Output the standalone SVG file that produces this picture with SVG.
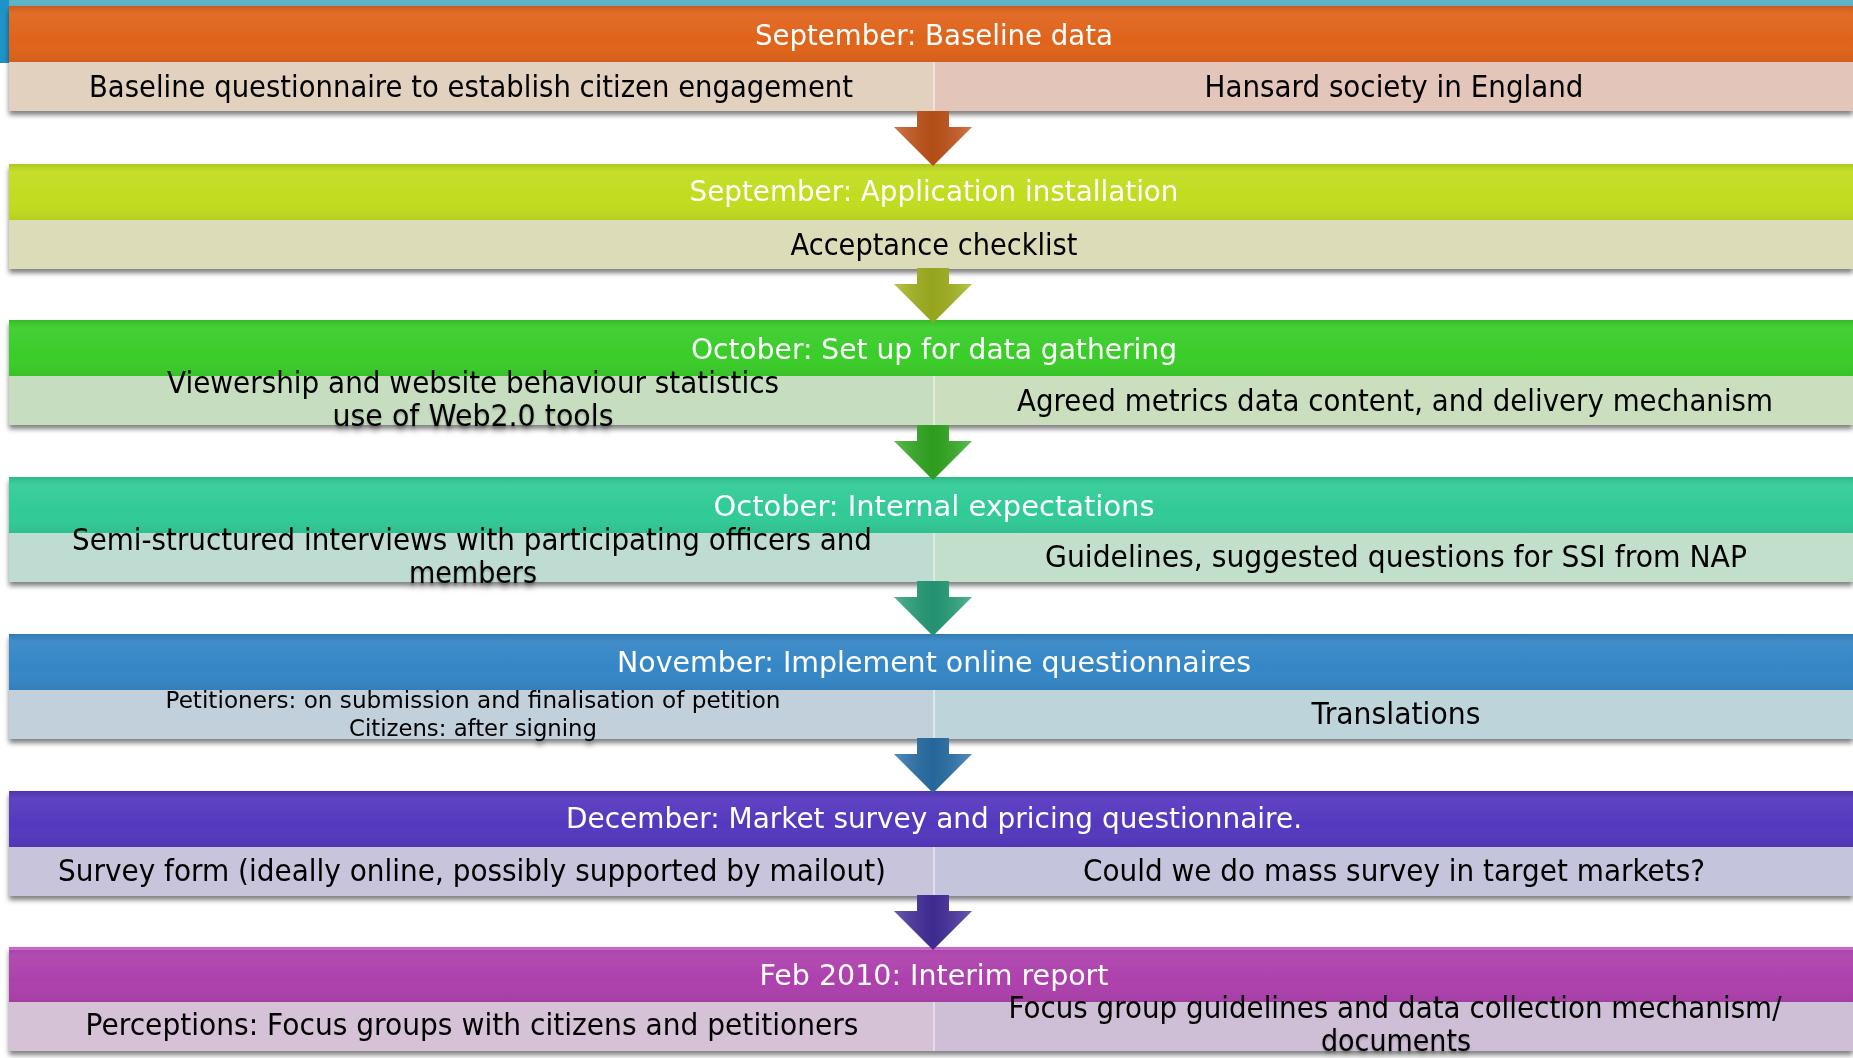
<svg xmlns="http://www.w3.org/2000/svg" width="1853" height="1058" viewBox="0 0 1853 1058">
  <style>
    .title { font-family: "DejaVu Sans", "Liberation Sans", sans-serif; font-size: 29px; fill: #ffffff; text-anchor: middle; }
    .body { font-family: "DejaVu Sans", "Liberation Sans", sans-serif; font-size: 30px; fill: #000000; text-anchor: middle; }
    .small { font-family: "DejaVu Sans", "Liberation Sans", sans-serif; font-size: 23px; fill: #000000; text-anchor: middle; }
    .divider { stroke: #ffffff; stroke-opacity: 0.45; stroke-width: 2; }
    .sheen { fill: url(#sheen); }
    .bevel { fill: url(#arrowShade); }
  </style>
  <defs>
    <filter id="shadow" x="-2%" y="-20%" width="104%" height="150%">
      <feDropShadow dx="0" dy="4" stdDeviation="2.5" flood-color="#000000" flood-opacity="0.5"/>
    </filter>
    <filter id="txtshadow" x="-5%" y="-30%" width="110%" height="170%">
      <feDropShadow dx="0" dy="2" stdDeviation="1.2" flood-color="#000000" flood-opacity="0.25"/>
    </filter>
    <linearGradient id="sheen" x1="0" y1="0" x2="0" y2="1">
      <stop offset="0" stop-color="#000000" stop-opacity="0.10"/>
      <stop offset="0.15" stop-color="#ffffff" stop-opacity="0.06"/>
      <stop offset="0.6" stop-color="#ffffff" stop-opacity="0"/>
      <stop offset="1" stop-color="#000000" stop-opacity="0.06"/>
    </linearGradient>
    <linearGradient id="arrowShade" x1="0" y1="0" x2="1" y2="0">
      <stop offset="0" stop-color="#ffffff" stop-opacity="0.2"/>
      <stop offset="0.5" stop-color="#000000" stop-opacity="0.1"/>
      <stop offset="1" stop-color="#ffffff" stop-opacity="0.2"/>
    </linearGradient>
    <!-- one down arrow, placed between each pair of stages -->
    <path id="arrow" d="M-16,0 L16,0 L16,16 L39,16 L0,55 L-39,16 L-16,16 Z"/>
  </defs>

  <rect width="1853" height="1058" fill="#ffffff"/>

  <!-- slide accents in the top-left corner -->
  <rect x="0" y="0" width="1853" height="6" fill="#5fb3c6"/>
  <rect x="0" y="0" width="9" height="63" fill="#1f93c6"/>

  <!-- stage 1 -->
  <g id="stage-baseline" filter="url(#shadow)">
    <rect x="9" y="6" width="1844" height="56" fill="#e0641c"/>
    <rect x="9" y="6" width="1844" height="56" class="sheen"/>
    <rect x="9" y="62" width="925" height="49" fill="#e3d1bf"/>
    <rect x="934" y="62" width="919" height="49" fill="#e3c5b9"/>
    <line x1="934" y1="62" x2="934" y2="111" class="divider"/>
    <text class="title" x="934" y="45" textLength="358" lengthAdjust="spacingAndGlyphs">September: Baseline data</text>
    <text class="body" x="471" y="97" textLength="764" lengthAdjust="spacingAndGlyphs">Baseline questionnaire to establish citizen engagement</text>
    <text class="body" x="1394" y="97" textLength="379" lengthAdjust="spacingAndGlyphs">Hansard society in England</text>
  </g>

  <!-- stage 2 -->
  <g id="stage-installation" filter="url(#shadow)">
    <rect x="9" y="164" width="1844" height="56" fill="#c2dc20"/>
    <rect x="9" y="164" width="1844" height="56" class="sheen"/>
    <rect x="9" y="220" width="1844" height="49" fill="#dcdcb9"/>
    <text class="title" x="934" y="201" textLength="489" lengthAdjust="spacingAndGlyphs">September: Application installation</text>
    <text class="body" x="934" y="255" textLength="287" lengthAdjust="spacingAndGlyphs">Acceptance checklist</text>
  </g>

  <!-- stage 3 -->
  <g id="stage-setup" filter="url(#shadow)">
    <rect x="9" y="320" width="1844" height="56" fill="#3acd2a"/>
    <rect x="9" y="320" width="1844" height="56" class="sheen"/>
    <rect x="9" y="376" width="925" height="49" fill="#c7ddc0"/>
    <rect x="934" y="376" width="919" height="49" fill="#cbdebd"/>
    <line x1="934" y1="376" x2="934" y2="425" class="divider"/>
    <text class="title" x="934" y="359" textLength="486" lengthAdjust="spacingAndGlyphs">October: Set up for data gathering</text>
    <text class="body" x="473" y="393" textLength="612" lengthAdjust="spacingAndGlyphs">Viewership and website behaviour statistics</text>
    <text class="body" x="473" y="426" textLength="281" lengthAdjust="spacingAndGlyphs" filter="url(#txtshadow)">use of Web2.0 tools</text>
    <text class="body" x="1395" y="411" textLength="756" lengthAdjust="spacingAndGlyphs">Agreed metrics data content, and delivery mechanism</text>
  </g>

  <!-- stage 4 -->
  <g id="stage-expectations" filter="url(#shadow)">
    <rect x="9" y="477" width="1844" height="56" fill="#31cb97"/>
    <rect x="9" y="477" width="1844" height="56" class="sheen"/>
    <rect x="9" y="533" width="925" height="49" fill="#bedcd1"/>
    <rect x="934" y="533" width="919" height="49" fill="#c2dfcb"/>
    <line x1="934" y1="533" x2="934" y2="582" class="divider"/>
    <text class="title" x="934" y="516" textLength="441" lengthAdjust="spacingAndGlyphs">October:  Internal expectations</text>
    <text class="body" x="472" y="550" textLength="800" lengthAdjust="spacingAndGlyphs">Semi-structured interviews with participating officers and</text>
    <text class="body" x="473" y="583" textLength="128" lengthAdjust="spacingAndGlyphs" filter="url(#txtshadow)">members</text>
    <text class="body" x="1396" y="567" textLength="702" lengthAdjust="spacingAndGlyphs">Guidelines, suggested questions for SSI from NAP</text>
  </g>

  <!-- stage 5 -->
  <g id="stage-questionnaires" filter="url(#shadow)">
    <rect x="9" y="634" width="1844" height="56" fill="#3586c6"/>
    <rect x="9" y="634" width="1844" height="56" class="sheen"/>
    <rect x="9" y="690" width="925" height="49" fill="#c2d0dc"/>
    <rect x="934" y="690" width="919" height="49" fill="#bdd5da"/>
    <line x1="934" y1="690" x2="934" y2="739" class="divider"/>
    <text class="title" x="934" y="672" textLength="634" lengthAdjust="spacingAndGlyphs">November:  Implement online questionnaires</text>
    <text class="small" x="473" y="708" textLength="615" lengthAdjust="spacingAndGlyphs">Petitioners: on submission and finalisation of petition</text>
    <text class="small" x="473" y="736" textLength="248" lengthAdjust="spacingAndGlyphs">Citizens: after signing</text>
    <text class="body" x="1396" y="724" textLength="169" lengthAdjust="spacingAndGlyphs">Translations</text>
  </g>

  <!-- stage 6 -->
  <g id="stage-market-survey" filter="url(#shadow)">
    <rect x="9" y="791" width="1844" height="56" fill="#5538be"/>
    <rect x="9" y="791" width="1844" height="56" class="sheen"/>
    <rect x="9" y="847" width="925" height="49" fill="#c7c4dc"/>
    <rect x="934" y="847" width="919" height="49" fill="#c4c4dc"/>
    <line x1="934" y1="847" x2="934" y2="896" class="divider"/>
    <text class="title" x="934" y="828" textLength="736" lengthAdjust="spacingAndGlyphs">December: Market survey and pricing questionnaire.</text>
    <text class="body" x="472" y="881" textLength="828" lengthAdjust="spacingAndGlyphs">Survey form (ideally online, possibly supported by mailout)</text>
    <text class="body" x="1394" y="881" textLength="622" lengthAdjust="spacingAndGlyphs">Could we do mass survey in target markets?</text>
  </g>

  <!-- stage 7 -->
  <g id="stage-interim-report" filter="url(#shadow)">
    <rect x="9" y="947" width="1844" height="55" fill="#ad41ad"/>
    <rect x="9" y="947" width="1844" height="3" fill="#f07ef0" opacity="0.7"/>
    <rect x="9" y="947" width="1844" height="55" class="sheen"/>
    <rect x="9" y="1002" width="925" height="49" fill="#d6c2d7"/>
    <rect x="934" y="1002" width="919" height="49" fill="#cebed6"/>
    <line x1="934" y1="1002" x2="934" y2="1051" class="divider"/>
    <text class="title" x="934" y="985" textLength="349" lengthAdjust="spacingAndGlyphs">Feb 2010: Interim report</text>
    <text class="body" x="472" y="1035" textLength="773" lengthAdjust="spacingAndGlyphs">Perceptions: Focus groups with citizens and petitioners</text>
    <text class="body" x="1395" y="1018" textLength="773" lengthAdjust="spacingAndGlyphs">Focus group guidelines and data collection mechanism/</text>
    <text class="body" x="1396" y="1051" textLength="150" lengthAdjust="spacingAndGlyphs" filter="url(#txtshadow)">documents</text>
  </g>

  <!-- down arrows between stages -->
  <g id="connectors">
    <g transform="translate(933,111)"><use href="#arrow" fill="#c6561a"/><use href="#arrow" class="bevel"/></g>
    <g transform="translate(933,268)"><use href="#arrow" fill="#a7b720"/><use href="#arrow" class="bevel"/></g>
    <g transform="translate(933,425)"><use href="#arrow" fill="#33ae22"/><use href="#arrow" class="bevel"/></g>
    <g transform="translate(933,581)"><use href="#arrow" fill="#27a27c"/><use href="#arrow" class="bevel"/></g>
    <g transform="translate(933,738)"><use href="#arrow" fill="#2a72ac"/><use href="#arrow" class="bevel"/></g>
    <g transform="translate(933,895)"><use href="#arrow" fill="#4630a0"/><use href="#arrow" class="bevel"/></g>
  </g>
</svg>
